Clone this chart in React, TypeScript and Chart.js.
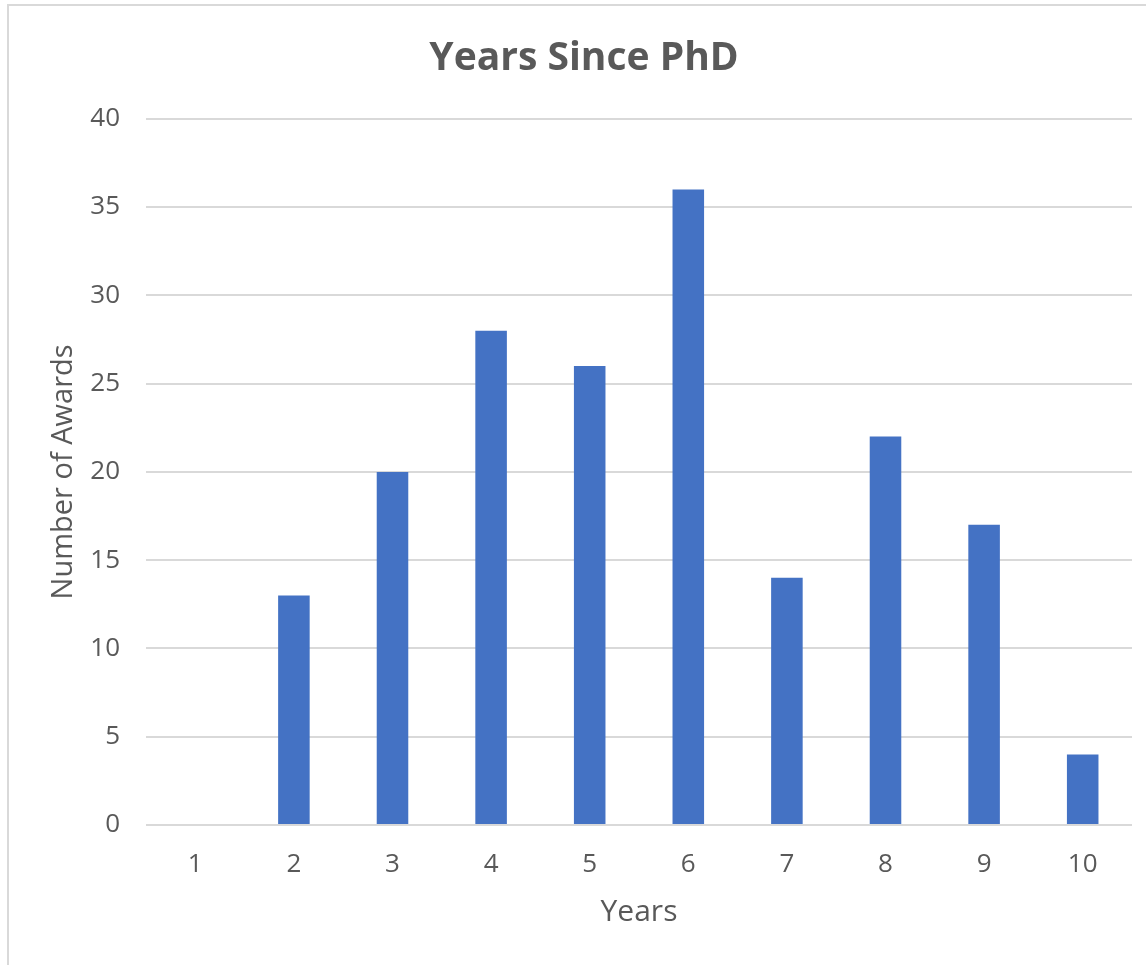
import React, { useEffect, useRef } from "react";
import { Chart, registerables } from "chart.js";

Chart.register(...registerables);

const years: string[] = ["1", "2", "3", "4", "5", "6", "7", "8", "9", "10"];
const awards: number[] = [0, 13, 20, 28, 26, 36, 14, 22, 17, 4];
const chartTitle = "Years Since PhD";
const xTitle = "Years";
const yTitle = "Number of Awards";
const yMin = 0;
const yMax = 40;
const yStep = 5;

const TEXT = "#595959";
const GRID = "#D9D9D9";
const BAR = "#4472C4";
const FONT = "'Open Sans', 'Liberation Sans', sans-serif";

export default function App() {
  const ref = useRef<HTMLCanvasElement | null>(null);

  useEffect(() => {
    if (!ref.current) return;
    const chart = new Chart(ref.current, {
      type: "bar",
      data: {
        labels: years,
        datasets: [
          {
            data: awards,
            backgroundColor: BAR,
            borderWidth: 0,
            categoryPercentage: 1,
            barPercentage: 0.32,
          },
        ],
      },
      options: {
        responsive: false,
        animation: false,
        layout: { padding: { left: 36, right: 14, top: 0, bottom: 0 } },
        plugins: {
          legend: { display: false },
          tooltip: { enabled: false },
          title: {
            display: true,
            text: chartTitle,
            color: TEXT,
            font: { family: FONT, size: 39, weight: "bold", lineHeight: 1.2 },
            padding: { top: 35, bottom: 37 },
          },
        },
        scales: {
          x: {
            grid: { display: false, drawTicks: false },
            border: { display: false },
            ticks: { color: TEXT, font: { family: FONT, size: 26 }, padding: 24 },
            title: {
              display: true,
              text: xTitle,
              color: TEXT,
              font: { family: FONT, size: 30 },
              padding: { top: 35, bottom: 35 },
            },
            afterFit: (s: any) => {
              s.height = 140;
            },
          },
          y: {
            min: yMin,
            max: yMax,
            ticks: { stepSize: yStep, color: TEXT, font: { family: FONT, size: 26 }, padding: 26 },
            grid: { color: GRID, lineWidth: 2, drawTicks: false },
            border: { display: false },
            title: {
              display: true,
              text: yTitle,
              color: TEXT,
              font: { family: FONT, size: 29 },
              padding: { top: 10, bottom: 0 },
            },
            afterFit: (s: any) => {
              s.width = 110;
            },
          },
        },
      },
    });
    return () => chart.destroy();
  }, []);

  return (
    <div style={{ position: "absolute", left: 0, top: 0, width: 1146, height: 965, background: "#fff", overflow: "hidden" }}>
      <div
        style={{
          position: "absolute",
          left: 7,
          top: 4,
          width: 1200,
          height: 1000,
          borderLeft: `2px solid ${GRID}`,
          borderTop: `2px solid ${GRID}`,
        }}
      />
      <canvas ref={ref} width={1146} height={965} style={{ position: "absolute", left: 0, top: 0, display: "block" }} />
    </div>
  );
}
